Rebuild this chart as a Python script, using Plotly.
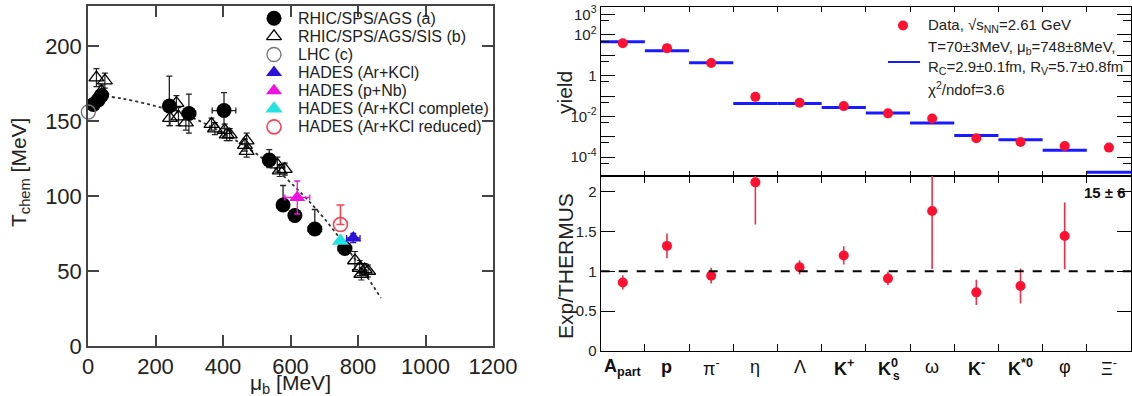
import plotly.graph_objects as go

W, H = 1132, 396
FONT = "Liberation Sans, Arial, Helvetica, sans-serif"

# ---------------- left panel: chemical freeze-out (mu_B, T_chem in MeV) ----------------
a_mu = [16, 30, 40, 241, 299, 403, 537, 578, 613, 672, 761]
a_T = [161, 164, 167, 160, 155, 157, 124, 94, 87, 78, 65]
a_Tup = [3, 3, 3, 20, 13, 12, 7, 13, 4, 13, 3]
a_Tdn = [3, 3, 3, 13, 13, 12, 5, 3, 4, 3, 3]
a_muerr = [5, 5, 5, 0, 20, 35, 0, 0, 0, 20, 20]

b_mu = [25, 50, 40, 243, 262, 268, 290, 366, 376, 405, 411, 420, 465, 470, 470,
        561, 568, 583, 791, 805, 810, 820, 830]
b_T = [179, 177, 170, 152, 162, 153, 149, 148, 145, 144, 141, 141, 134, 137, 130,
       121, 117, 118, 57, 52, 48, 51, 50]
b_Terr = [6, 5, 4, 5, 5, 6, 5, 4, 4, 4, 4, 4, 4, 5, 4, 5, 4, 4, 6, 5, 4, 4, 4]

lhc_mu = [1]
lhc_T = [156]

arkcl_mu = [786]
arkcl_T = [72]
arkcl_muerr = [20]
arkcl_Terr = [3]

pnb_mu = [620]
pnb_T = [99]
pnb_muerr = [37]
pnb_Terr = [11]

complete_mu = [748]
complete_T = [70]

reduced_mu = [748]
reduced_T = [81]
reduced_Tup = [13]

curve_mu = [35, 100, 200, 300, 400, 500, 600, 700, 800, 868]
curve_T = [167, 165, 160, 153, 142, 128, 109, 85, 55, 32]

left_legend = ["RHIC/SPS/AGS (a)", "RHIC/SPS/AGS/SIS (b)", "LHC (c)", "HADES (Ar+KCl)",
               "HADES (p+Nb)", "HADES (Ar+KCl complete)", "HADES (Ar+KCl reduced)"]

# ---------------- right panel: yields and ratios ----------------
species = ["<b>A</b><sub><b>part</b></sub>", "<b>p</b>", "π<sup>-</sup>", "η", "Λ",
           "<b>K</b><sup><b>+</b></sup>", "<b>K</b><sup><b>0</b></sup>", "ω",
           "<b>K</b><sup><b>-</b></sup>", "<b>K</b><sup><b>*0</b></sup>", "φ", "Ξ<sup>-</sup>"]
yield_data = [39, 22.4, 4.2, 0.091, 0.047, 0.032, 0.0141, 0.0079, 8.5e-4, 5.6e-4, 3.5e-4, 2.95e-4]
yield_model = [46, 16.6, 4.3, 0.043, 0.043, 0.0275, 0.0145, 0.0047, 1.15e-3, 7.2e-4, 2.2e-4, 1.8e-5]
ratio = [0.86, 1.32, 0.945, 2.12, 1.05, 1.20, 0.91, 1.76, 0.735, 0.815, 1.445, 15]
ratio_err = [0.09, 0.157, 0.10, 0.53, 0.09, 0.115, 0.085, 0.73, 0.16, 0.22, 0.42, 6]
xi_ratio, xi_err = ratio[-1], ratio_err[-1]

fit_text = ["Data, √s<sub>NN</sub>=2.61 GeV",
            "T=70±3MeV, μ<sub>b</sub>=748±8MeV,",
            "R<sub>C</sub>=2.9±0.1fm, R<sub>V</sub>=5.7±0.8fm",
            "χ<sup>2</sup>/ndof=3.6"]

# ---------------- figure ----------------
fig = go.Figure()

styles = [
    dict(symbol="circle", size=15, color="black"),
    dict(symbol="triangle-up-open", size=13, color="black", line=dict(width=1.3, color="black")),
    dict(symbol="circle-open", size=14, color="#777777", line=dict(width=1.4, color="#777777")),
    dict(symbol="triangle-up", size=14, color="#2a10d8"),
    dict(symbol="triangle-up", size=14, color="#f010e0"),
    dict(symbol="triangle-up", size=15, color="#22e2e2"),
    dict(symbol="circle-open", size=14, color="#ff4050", line=dict(width=1.6, color="#ff4050")),
]

L = dict(xaxis="x", yaxis="y")
fig.add_trace(go.Scatter(x=curve_mu, y=curve_T, mode="lines",
                         line=dict(color="#333333", width=1.8, dash="dot", shape="spline"), **L))
fig.add_trace(go.Scatter(x=b_mu, y=b_T, mode="markers", marker=styles[1],
                         error_y=dict(type="data", array=b_Terr, color="#222", thickness=1.2, width=3), **L))
fig.add_trace(go.Scatter(x=a_mu, y=a_T, mode="markers", marker=styles[0],
                         error_y=dict(type="data", array=a_Tup, arrayminus=a_Tdn, color="#222", thickness=1.3, width=3),
                         error_x=dict(type="data", array=a_muerr, color="#222", thickness=1.3, width=3), **L))
fig.add_trace(go.Scatter(x=lhc_mu, y=lhc_T, mode="markers", marker=styles[2], cliponaxis=False, **L))
fig.add_trace(go.Scatter(x=reduced_mu, y=reduced_T, mode="markers", marker=styles[6],
                         error_y=dict(type="data", array=reduced_Tup, arrayminus=[0], color="#ff4050", thickness=1.6, width=4), **L))
fig.add_trace(go.Scatter(x=complete_mu, y=complete_T, mode="markers", marker=styles[5], **L))
fig.add_trace(go.Scatter(x=arkcl_mu, y=arkcl_T, mode="markers", marker=styles[3],
                         error_y=dict(type="data", array=arkcl_Terr, color="#2a10d8", thickness=1.3, width=3),
                         error_x=dict(type="data", array=arkcl_muerr, color="#2a10d8", thickness=1.3, width=3), **L))
fig.add_trace(go.Scatter(x=pnb_mu, y=pnb_T, mode="markers", marker=styles[4],
                         error_y=dict(type="data", array=pnb_Terr, color="#f010e0", thickness=1.3, width=3),
                         error_x=dict(type="data", array=pnb_muerr, color="#f010e0", thickness=1.3, width=3), **L))

# right top: model lines and data yields
nbin = len(species)
seg_x, seg_y = [], []
for i, m in enumerate(yield_model):
    seg_x += [i, i + 1, None]
    seg_y += [m, m, None]
fig.add_trace(go.Scatter(x=seg_x, y=seg_y, mode="lines", line=dict(color="#1a1aff", width=3),
                         xaxis="x2", yaxis="y2"))
centers = [i + 0.5 for i in range(nbin)]
RED = "#ff1030"
fig.add_trace(go.Scatter(x=centers, y=yield_data, mode="markers", marker=dict(color=RED, size=10),
                         xaxis="x2", yaxis="y2"))
# right bottom: ratios
fig.add_trace(go.Scatter(x=centers, y=ratio, mode="markers", marker=dict(color=RED, size=10),
                         error_y=dict(type="data", array=ratio_err, color="#f03048", thickness=1.6, width=0),
                         xaxis="x3", yaxis="y3"))

# legends (overlay axes in reference-pixel units)
P = dict(xaxis="x4", yaxis="y4")
lx, ly0, ldy = 274, 18.3, 18.1
for k, st in enumerate(styles):
    fig.add_trace(go.Scatter(x=[lx], y=[ly0 + k * ldy], mode="markers", marker=st, cliponaxis=False, **P))
fig.add_trace(go.Scatter(x=[903], y=[25.5], mode="markers", marker=dict(color=RED, size=10), **P))
fig.add_trace(go.Scatter(x=[888, 920], y=[62, 62], mode="lines", line=dict(color="#1a1aff", width=2), **P))

ann = []
for k, t in enumerate(left_legend):
    ann.append(dict(text=t, xref="paper", yref="paper", x=296 / W, y=1 - (ly0 + k * ldy) / H,
                    xanchor="left", yanchor="middle", showarrow=False,
                    font=dict(size=16, color="#222", family=FONT)))
for k, (t, yy) in enumerate(zip(fit_text, [25, 47, 67, 89])):
    ann.append(dict(text=t, xref="paper", yref="paper", x=926 / W, y=1 - yy / H,
                    xanchor="left", yanchor="middle", showarrow=False,
                    font=dict(size=15, color="#222", family=FONT)))
for i, t in enumerate(species):
    ann.append(dict(text=t, xref="x3", yref="paper", x=centers[i], y=1 - 367 / H,
                    xanchor="center", yanchor="middle", showarrow=False,
                    font=dict(size=18, color="#111", family=FONT)))
ann.append(dict(text="<b>s</b>", xref="x3", yref="paper", x=centers[6], y=1 - 376 / H, xshift=3,
                xanchor="left", yanchor="middle", showarrow=False,
                font=dict(size=12, color="#111", family=FONT)))
ann.append(dict(text=f"<b>{xi_ratio} ± {xi_err}</b>", xref="x3", yref="paper", x=centers[-1], y=1 - 192 / H,
                xshift=-4, xanchor="center", yanchor="middle", showarrow=False,
                font=dict(size=15, color="#111", family=FONT)))
ann.append(dict(text="T<sub>chem</sub> [MeV]", xref="paper", yref="paper", x=20 / W, y=1 - 173 / H,
                textangle=-90, showarrow=False, xanchor="center", yanchor="middle",
                font=dict(size=21, color="#222", family=FONT)))
ann.append(dict(text="μ<sub>b</sub> [MeV]", xref="paper", yref="paper", x=290 / W, y=1 - 384 / H,
                showarrow=False, xanchor="center", yanchor="middle",
                font=dict(size=21, color="#222", family=FONT)))
ann.append(dict(text="yield", xref="paper", yref="paper", x=564 / W, y=1 - 93 / H,
                textangle=-90, showarrow=False, xanchor="center", yanchor="middle",
                font=dict(size=21, color="#222", family=FONT)))
ann.append(dict(text="Exp/THERMUS", xref="paper", yref="paper", x=565 / W, y=1 - 266 / H,
                textangle=-90, showarrow=False, xanchor="center", yanchor="middle",
                font=dict(size=21, color="#222", family=FONT)))

shapes = [dict(type="line", xref="x3", yref="y3", x0=0, x1=nbin, y0=1, y1=1,
               line=dict(color="black", width=2, dash="dash"))]

LC = "#444444"
left_ax = dict(showline=True, linecolor=LC, linewidth=1.5, mirror="ticks", ticks="inside",
               ticklen=11, tickwidth=1.5, tickcolor=LC, showgrid=False, zeroline=False,
               tickfont=dict(size=22, color="#222", family=FONT))
right_ax = dict(showline=True, linecolor="black", linewidth=1.3, mirror="ticks", ticks="inside",
                tickwidth=1.2, tickcolor="black", showgrid=False, zeroline=False,
                tickfont=dict(size=15, color="#222", family=FONT))

dec = list(range(-4, 4))
log_vals = [10.0 ** k for k in dec]
log_text = {-4: "10<sup>-4</sup>", -2: "10<sup>-2</sup>", 0: "1", 2: "10<sup>2</sup>", 3: "10<sup>3</sup>"}
log_ticktext = [log_text.get(k, "") for k in dec]
minor_vals = [5 * 10.0 ** k for k in range(-5, 3)]
bounds = list(range(1, nbin))

fig.update_layout(
    autosize=True, margin=dict(l=0, r=0, t=0, b=0, autoexpand=False),
    paper_bgcolor="white", plot_bgcolor="rgba(0,0,0,0)", showlegend=False,
    font=dict(family=FONT),
    xaxis=dict(domain=[88 / W, 493 / W], range=[0, 1200], tickvals=list(range(0, 1201, 200)),
               anchor="y", **left_ax),
    yaxis=dict(domain=[1 - 346 / H, 1 - 6 / H], range=[0, 226.7], tickvals=list(range(0, 201, 50)),
               anchor="x", **left_ax),
    xaxis2=dict(domain=[600.7 / W, 1131 / W], range=[0, nbin], tickvals=bounds, ticklen=5,
                showticklabels=False, anchor="y2", **right_ax),
    yaxis2=dict(domain=[1 - 175.7 / H, 1 - 7 / H], type="log", range=[-4.91, 3.37],
                tickvals=log_vals, ticktext=log_ticktext, ticklen=14,
                minor=dict(tickvals=minor_vals, ticks="inside", ticklen=8, tickcolor="black"),
                anchor="x2", **right_ax),
    xaxis3=dict(domain=[600.7 / W, 1131 / W], range=[0, nbin], tickvals=bounds, ticklen=7,
                showticklabels=False, anchor="y3", **right_ax),
    yaxis3=dict(domain=[1 - 350.7 / H, 1 - 175.7 / H], range=[0, 2.204],
                tickvals=[0, 0.5, 1, 1.5, 2], ticktext=["0", "0.5", "1", "1.5", "2"], ticklen=14,
                anchor="x3", **right_ax),
    xaxis4=dict(domain=[0, 1], range=[0, W], visible=False, anchor="y4"),
    yaxis4=dict(domain=[0, 1], range=[H, 0], visible=False, anchor="x4"),
    annotations=ann, shapes=shapes,
)

fig.write_html("out.html", config={"displayModeBar": False, "responsive": True},
               default_width="100vw", default_height="100vh",
               post_script="document.documentElement.style.margin='0px';document.body.style.margin='0px';"
                           "document.documentElement.style.overflow='hidden';document.body.style.overflow='hidden';"
                           "window.dispatchEvent(new Event('resize'));")
